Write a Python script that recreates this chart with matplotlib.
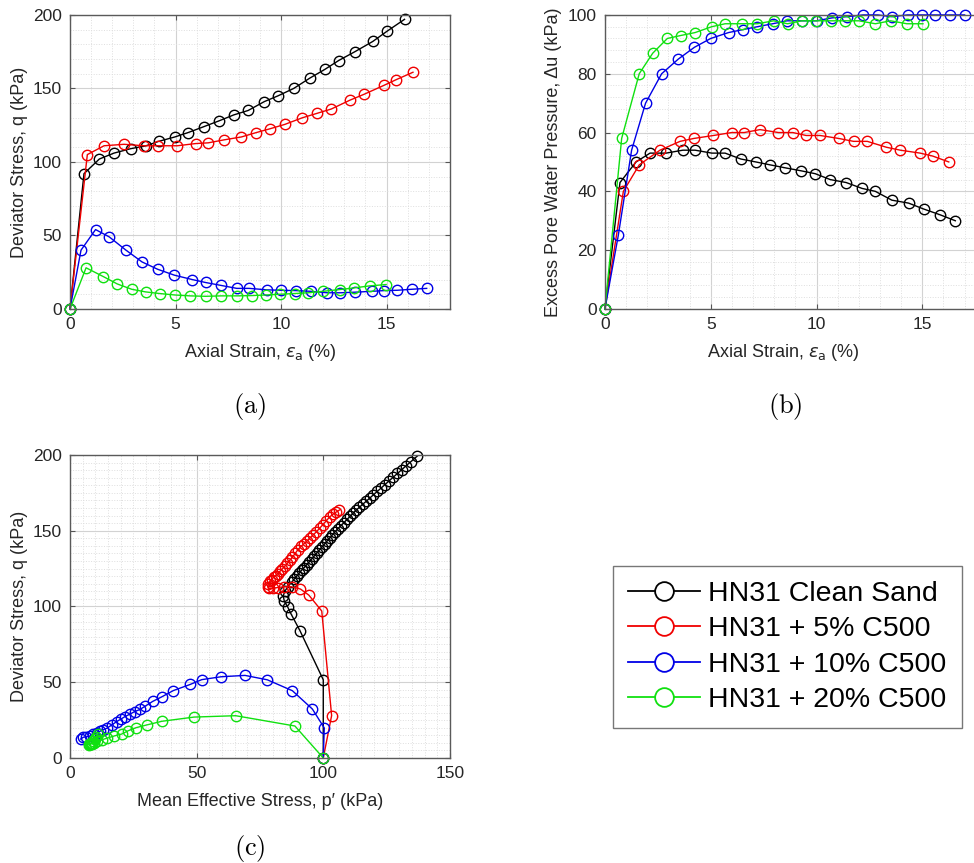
import matplotlib.pyplot as plt
from matplotlib.ticker import MultipleLocator, AutoMinorLocator
from matplotlib.lines import Line2D

# ---- data ----
labels = ['HN31 Clean Sand', 'HN31 + 5% C500', 'HN31 + 10% C500', 'HN31 + 20% C500']
colors = ['#000000', '#f00000', '#0000e6', '#10e010']

# (a) deviator stress vs axial strain
strain_clean_a = [0, 0.66, 1.39, 2.08, 2.87, 3.6, 4.2, 4.97, 5.6, 6.34, 7.07, 7.76, 8.44, 9.2, 9.86,
                  10.6, 11.36, 12.08, 12.73, 13.5, 14.35, 15.03, 15.85]
q_clean_a = [0, 92, 102, 106, 109, 111, 114, 117, 120, 124, 128, 132, 135, 141, 145,
             150, 157, 163, 169, 175, 182, 189, 197]
strain_5_a = [0, 0.82, 1.61, 2.56, 3.5, 4.15, 5.08, 5.95, 6.55, 7.29, 8.12, 8.83, 9.46, 10.17,
              11.0, 11.69, 12.38, 13.26, 13.93, 14.86, 15.46, 16.25]
q_5_a = [0, 105, 111, 112, 111, 111, 111, 112.5, 113, 115, 117, 120, 122.5, 125.5,
         130, 133, 136, 142, 146, 152, 156, 161]
strain_10_a = [0, 0.52, 1.21, 1.86, 2.65, 3.41, 4.15, 4.94, 5.79, 6.42, 7.16, 7.9, 8.49, 9.34,
               10.0, 10.7, 11.4, 12.2, 12.8, 13.5, 14.3, 14.9, 15.5, 16.2, 16.9]
q_10_a = [0, 40, 54, 49, 40, 32, 27, 23, 20, 18, 16, 14, 14, 13,
          12.7, 12.5, 12, 11, 11, 11.4, 12, 12.5, 12.7, 13.4, 14]
strain_20_a = [0, 0.76, 1.58, 2.24, 2.92, 3.58, 4.24, 4.97, 5.68, 6.42, 7.16, 7.92, 8.63, 9.27,
               9.94, 10.65, 11.29, 11.99, 12.78, 13.45, 14.2, 14.98]
q_20_a = [0, 28, 22, 17, 13.4, 11.6, 10.5, 9.5, 8.9, 8.6, 8.9, 8.9, 9.1, 9.5,
          10, 10.5, 11, 12, 13.2, 14.3, 15.7, 16.6]

# (b) excess pore water pressure vs axial strain
strain_clean_b = [0, 0.71, 1.47, 2.13, 2.89, 3.68, 4.26, 5.05, 5.68, 6.42, 7.13, 7.81, 8.52, 9.26,
                  9.94, 10.65, 11.4, 12.15, 12.78, 13.56, 14.35, 15.06, 15.85, 16.56]
du_clean_b = [0, 43, 50, 53, 53, 54, 54, 53, 53, 51, 50, 49, 48, 47,
              46, 44, 43, 41, 40, 37, 36, 34, 32, 30]
strain_5_b = [0, 0.87, 1.62, 2.6, 3.55, 4.21, 5.13, 5.99, 6.58, 7.33, 8.2, 8.88, 9.51, 10.17,
              11.04, 11.75, 12.4, 13.3, 13.96, 14.9, 15.49, 16.25]
du_5_b = [0, 40, 49, 54, 57, 58, 59, 60, 60, 61, 60, 60, 59, 59,
          58, 57, 57, 55, 54, 53, 52, 50]
strain_10_b = [0, 0.63, 1.26, 1.92, 2.68, 3.47, 4.23, 5.0, 5.84, 6.51, 7.21, 7.93, 8.6, 9.3,
               10.0, 10.73, 11.44, 12.2, 12.9, 13.56, 14.3, 15.0, 15.6, 16.3, 17.0]
du_10_b = [0, 25, 54, 70, 80, 85, 89, 92, 94, 95, 96, 97, 98, 98,
           98, 99, 99.4, 100, 100, 99.4, 100, 100, 100, 100, 100]
strain_20_b = [0, 0.79, 1.62, 2.26, 2.95, 3.58, 4.26, 5.05, 5.68, 6.47, 7.2, 7.97, 8.63, 9.3,
               9.98, 10.68, 11.36, 12.0, 12.78, 13.5, 14.27, 15.03]
du_20_b = [0, 58, 80, 87, 92, 93, 94, 96, 97, 97, 97, 98, 97, 98,
           98, 98, 98, 98, 97, 98, 97, 97]

# (c) stress paths
p_clean_c = [100, 100, 90.8, 87.3, 86.0, 84.6, 84.2, 84.8, 86.0, 87.5,
             88.5, 89.5, 90.5, 91.5, 92.5, 93.5, 94.5, 95.5, 96.5, 97.5, 98.5, 99.5, 100.5, 101.5, 102.5,
             103.6, 104.7, 105.8, 107.0, 108.2, 109.4, 110.6, 111.8, 113.0,
             114.3, 115.6, 117.0, 118.4, 119.8, 121.3, 122.8, 124.4, 126.0, 127.6, 129.3, 131.0, 132.8,
             134.6, 137.2]
q_clean_c = [0, 51.6, 84, 95, 99.5, 103.5, 107, 110, 113, 116,
             118, 120, 122, 124, 125.7, 127.6, 129.5, 131.5, 133.4, 135.4, 137.3, 139.3, 141.2, 143.2, 145.1,
             147.3, 149.4, 151.4, 153.4, 155.4, 157.5, 159.5, 161.6, 163.6,
             165.5, 167.5, 169.5, 171.6, 173.7, 175.9, 178.1, 180.5, 182.9, 185.3, 187.8, 190.3, 193.0,
             195.6, 199.4]
p_5_c = [100, 103.3, 99.4, 94.3, 91.0, 87.5, 84.5, 82.0, 80.0, 78.6,
         78.0, 78.3, 78.9, 79.6, 80.4, 81.2, 82.0, 82.9, 83.8, 84.8,
         85.8, 86.8, 87.8, 88.9, 90.0, 91.2, 92.4, 93.6, 94.8, 96.0,
         97.3, 98.6, 99.9, 101.2, 102.5, 103.8, 105.0, 106.4]
q_5_c = [0, 28, 97, 107.5, 111.5, 113, 113, 112.5, 112, 112,
         113, 115, 116.5, 117.8, 119.3, 120.4, 121.6, 123.2, 124.7, 126.5,
         128.5, 130.5, 132.5, 135, 137.5, 139.6, 141.4, 143.2, 145.3, 147.2,
         149.3, 151.7, 154.1, 156.5, 159.1, 160.8, 162.2, 163.7]
p_10_c = [100, 100.4, 95.7, 87.8, 77.9, 69.1, 59.6, 52.0, 47.4, 40.8,
          36.4, 32.6, 29.6, 27.6, 25.5, 23.7, 21.7, 20.0, 18.4, 16.5,
          14.5, 12.9, 11.8, 10.5, 9.2, 7.9, 6.5, 5.3, 4.2]
q_10_c = [0, 19.8, 32.3, 44.4, 51.6, 54.5, 53.6, 51.7, 48.5, 44.5,
          40.5, 37.3, 34.1, 32, 30.6, 29, 27.3, 25.6, 24, 21.8,
          19.6, 18.5, 17.6, 16.7, 15.6, 14.5, 14, 13.7, 12.5]
p_20_c = [100, 88.8, 65.4, 49.0, 36.2, 30.3, 26.1, 23.0, 20.4, 17.4, 14.5, 12.5,
          10.8, 9.5, 8.5, 7.8, 7.4, 7.6, 8.1, 8.6, 9.2, 9.8, 10.4, 11.0]
q_20_c = [0, 21.1, 27.9, 27.0, 24.2, 21.8, 20.0, 18.0, 15.8, 14.5, 13.0, 12.0,
          11.0, 10.0, 9.4, 9.0, 8.8, 9.0, 9.3, 10.0, 11.0, 12.3, 14.0, 16.0]

plt.rcParams['font.family'] = ['Liberation Sans', 'DejaVu Sans']
plt.rcParams['mathtext.fontset'] = 'dejavusans'

fig = plt.figure(figsize=(9.74, 8.63), dpi=100)
ax_a = fig.add_axes([0.0719, 0.642, 0.390, 0.3407])
ax_b = fig.add_axes([0.6211, 0.642, 0.391, 0.3407])
ax_c = fig.add_axes([0.0719, 0.1217, 0.390, 0.3511])

line_kw = dict(marker='o', ms=7.5, mew=1.0, lw=1.0, mfc='none', clip_on=False)


def style(ax, minor):
    ax.xaxis.set_minor_locator(AutoMinorLocator(minor[0]))
    ax.yaxis.set_minor_locator(AutoMinorLocator(minor[1]))
    ax.grid(True, which='major', color='#d2d2d2', linewidth=0.8)
    ax.grid(True, which='minor', color='#dedede', linestyle=':', linewidth=0.7)
    ax.set_axisbelow(True)
    ax.tick_params(which='both', direction='in', top=True, right=True,
                   colors='#262626', labelsize=12.5, pad=6)
    ax.tick_params(which='major', length=3.5, color='#555555')
    ax.tick_params(which='minor', length=0)
    for s in ax.spines.values():
        s.set_color('#5a5a5a')
        s.set_linewidth(1.0)


# (a)
for x, y, c in zip([strain_clean_a, strain_5_a, strain_10_a, strain_20_a],
                   [q_clean_a, q_5_a, q_10_a, q_20_a], colors):
    ax_a.plot(x, y, color=c, **line_kw)
ax_a.set_xlim(0, 18)
ax_a.set_ylim(0, 200)
ax_a.xaxis.set_major_locator(MultipleLocator(5))
ax_a.yaxis.set_major_locator(MultipleLocator(50))
style(ax_a, (5, 5))
ax_a.set_xlabel(r'Axial Strain, $\varepsilon_{\rm a}$ (%)', fontsize=13, color='#262626', va='center')
ax_a.set_ylabel('Deviator Stress, q (kPa)', fontsize=13, color='#262626', va='center')
ax_a.xaxis.set_label_coords(0.5, -0.148)
ax_a.yaxis.set_label_coords(-0.132, 0.5)

# (b)
for x, y, c in zip([strain_clean_b, strain_5_b, strain_10_b, strain_20_b],
                   [du_clean_b, du_5_b, du_10_b, du_20_b], colors):
    ax_b.plot(x, y, color=c, **line_kw)
ax_b.set_xlim(0, 18)
ax_b.set_ylim(0, 100)
ax_b.xaxis.set_major_locator(MultipleLocator(5))
ax_b.yaxis.set_major_locator(MultipleLocator(20))
style(ax_b, (5, 5))
ax_b.set_xlabel(r'Axial Strain, $\varepsilon_{\rm a}$ (%)', fontsize=13, color='#262626', va='center')
ax_b.set_ylabel('Excess Pore Water Pressure, \u0394u (kPa)', fontsize=13, color='#262626', va='center')
ax_b.xaxis.set_label_coords(0.468, -0.148)
ax_b.yaxis.set_label_coords(-0.134, 0.5)

# (c)
for x, y, c in zip([p_clean_c, p_5_c, p_10_c, p_20_c],
                   [q_clean_c, q_5_c, q_10_c, q_20_c], colors):
    ax_c.plot(x, y, color=c, **line_kw)
ax_c.set_xlim(0, 150)
ax_c.set_ylim(0, 200)
ax_c.xaxis.set_major_locator(MultipleLocator(50))
ax_c.yaxis.set_major_locator(MultipleLocator(50))
style(ax_c, (10, 10))
ax_c.set_xlabel('Mean Effective Stress, p\u2032 (kPa)', fontsize=13, color='#262626', va='center')
ax_c.set_ylabel('Deviator Stress, q (kPa)', fontsize=13, color='#262626', va='center')
ax_c.xaxis.set_label_coords(0.5, -0.144)
ax_c.yaxis.set_label_coords(-0.132, 0.5)

# panel letters
for x, y, t in [(250, 406, '(a)'), (785, 406, '(b)'), (250, 848, '(c)')]:
    fig.text(x / 974, 1 - y / 863, r'$\mathrm{%s}$' % t, math_fontfamily='cm',
             fontsize=19, ha='center', va='center')

# legend
handles = [Line2D([0], [0], color=c, marker='o', mfc='white', ms=13.5, mew=1.3, lw=1.3)
           for c in colors]
leg = fig.legend(handles, labels, loc='center', bbox_to_anchor=(0.8085, 0.2503),
                 fontsize=20.5, frameon=True, fancybox=False, edgecolor='#555555',
                 handlelength=2.5, handletextpad=0.3, labelspacing=0.32, borderpad=0.55,
                 borderaxespad=0)
leg.get_frame().set_linewidth(1.0)

fig.savefig('out.png', dpi=100)
